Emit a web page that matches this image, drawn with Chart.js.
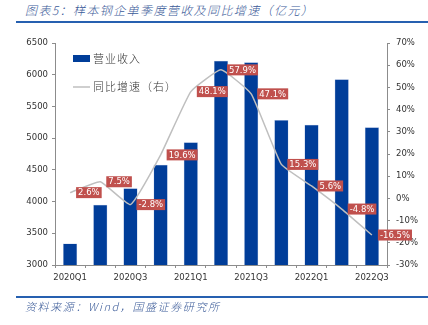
<!DOCTYPE html>
<html lang="zh">
<head>
  <meta charset="UTF-8">
  <title>样本钢企单季度营收及同比增速</title>
  <script src="https://cdn.jsdelivr.net/npm/chart.js"></script>
  <style>
    body { margin: 0; background: #fff; }
    .wrap { position: relative; width: 428px; height: 325px; overflow: hidden; }
    .title {
      position: absolute; left: 25px; top: 1px;
      font: italic 300 12px "Noto Sans CJK SC", sans-serif;
      color: #3a5a98; letter-spacing: 1.4px; white-space: nowrap;
    }
    .rule { position: absolute; left: 16px; right: 0; height: 2px; background: #2660b0; }
    .source {
      position: absolute; left: 25px; top: 298px;
      font: italic 300 11px "Noto Sans CJK SC", sans-serif;
      color: #3a5a98; letter-spacing: 1.6px; white-space: nowrap;
    }
    canvas { position: absolute; left: 0; top: 0; }
  </style>
</head>
<body>
  <div class="wrap">
    <div class="title">图表5：样本钢企单季度营收及同比增速（亿元）</div>
    <div class="rule" style="top:21px"></div>
    <canvas id="chart" width="428" height="325"></canvas>
    <div class="rule" style="top:296px"></div>
    <div class="source">资料来源：Wind，国盛证券研究所</div>
  </div>

  <script>
    // data
    const quarters = ['2020Q1', '2020Q2', '2020Q3', '2020Q4', '2021Q1', '2021Q2',
                      '2021Q3', '2021Q4', '2022Q1', '2022Q2', '2022Q3'];
    const revenue = [3340, 3950, 4210, 4580, 4935, 6220, 6195, 5285, 5212, 5928, 5170];
    const yoyGrowth = [2.6, 7.5, -2.8, 19.6, 48.1, 57.9, 47.1, 15.3, 5.6, -4.8, -16.5];

    const barColor = '#003d99';
    const lineColor = '#bfbfbf';
    const axisColor = '#8c8c8c';
    const tickFont = { family: 'DejaVu Sans', size: 8.5 };

    // red value boxes next to the growth line points
    const valueBoxes = {
      id: 'valueBoxes',
      afterDatasetsDraw(chart) {
        const meta = chart.getDatasetMeta(1);
        const ctx = chart.ctx;
        ctx.save();
        ctx.font = '8.5px "DejaVu Sans"';
        ctx.textBaseline = 'middle';
        meta.data.forEach((pt, i) => {
          const txt = yoyGrowth[i].toFixed(1) + '%';
          const w = ctx.measureText(txt).width + 4;
          const x = pt.x + 6, y = pt.y;
          ctx.fillStyle = '#c0504d';
          ctx.fillRect(x, y - 5.5, w, 11);
          ctx.fillStyle = '#fff';
          ctx.fillText(txt, x + 2, y + 0.5);
        });
        ctx.restore();
      }
    };

    // legend sits inside the plot, top left
    const innerLegend = {
      id: 'innerLegend',
      afterDraw(chart) {
        const ctx = chart.ctx;
        const ds = chart.data.datasets;
        ctx.save();
        ctx.font = '300 11px "Noto Sans CJK SC"';
        ctx.letterSpacing = '1px';
        ctx.textBaseline = 'middle';
        ctx.fillStyle = barColor;
        ctx.fillRect(73, 55, 17, 7);
        ctx.fillStyle = '#333';
        ctx.fillText(ds[0].label, 93, 59);
        ctx.strokeStyle = lineColor;
        ctx.lineWidth = 1.5;
        ctx.beginPath();
        ctx.moveTo(73, 87);
        ctx.lineTo(90, 87);
        ctx.stroke();
        ctx.fillText(ds[1].label, 93, 87);
        ctx.restore();
      }
    };

    new Chart(document.getElementById('chart'), {
      type: 'bar',
      data: {
        labels: quarters,
        datasets: [
          {
            label: '营业收入',
            data: revenue,
            backgroundColor: barColor,
            borderColor: '#a9bde0',
            borderWidth: 0.5,
            barPercentage: 0.47,
            categoryPercentage: 1,
            yAxisID: 'y',
            order: 1
          },
          {
            type: 'line',
            label: '同比增速（右）',
            data: yoyGrowth,
            borderColor: lineColor,
            borderWidth: 1.5,
            pointRadius: 0,
            tension: 0.12,
            yAxisID: 'y1',
            order: 0
          }
        ]
      },
      options: {
        responsive: false,
        animation: false,
        layout: { padding: { left: 0, right: 0, top: 43, bottom: 38 } },
        plugins: {
          legend: { display: false },
          tooltip: { enabled: false }
        },
        scales: {
          x: {
            afterFit: s => { s.height = 22; },
            grid: { drawOnChartArea: false, tickLength: 3, color: axisColor, offset: true },
            border: { color: axisColor },
            ticks: {
              autoSkip: false, maxRotation: 0, padding: 5,
              color: '#333', font: tickFont,
              callback(v, i) { return i % 2 === 0 ? quarters[i] : ''; }
            }
          },
          y: {
            position: 'left',
            min: 3000, max: 6500,
            afterFit: s => { s.width = 55; },
            grid: { drawOnChartArea: false, tickLength: 3, color: axisColor },
            border: { color: axisColor },
            ticks: {
              stepSize: 500, padding: 4, color: '#333', font: tickFont,
              callback: v => String(v)
            }
          },
          y1: {
            position: 'right',
            min: -30, max: 70,
            afterFit: s => { s.width = 41; },
            grid: { drawOnChartArea: false, tickLength: 3, color: axisColor },
            border: { color: axisColor },
            ticks: {
              stepSize: 10, padding: 6, color: '#333', font: tickFont,
              callback: v => v + '%'
            }
          }
        }
      },
      plugins: [valueBoxes, innerLegend]
    });
  </script>
</body>
</html>
